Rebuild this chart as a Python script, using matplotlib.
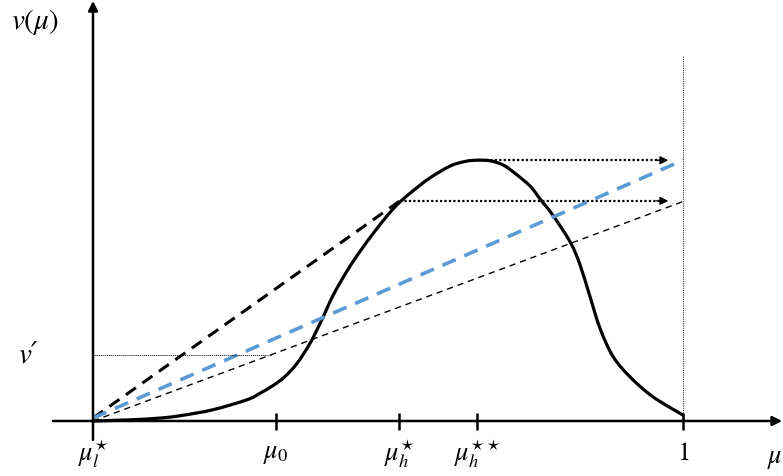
import matplotlib
matplotlib.use('Agg')
from matplotlib import pyplot as plt
from matplotlib.path import Path
from matplotlib.patches import PathPatch

# curve v(mu)
mu = [0, 0.063, 0.114, 0.148, 0.203, 0.261, 0.283, 0.305, 0.325, 0.346, 0.368, 0.388,
      0.407, 0.431, 0.453, 0.478, 0.503, 0.520, 0.546, 0.571, 0.605, 0.631, 0.651, 0.673,
      0.695, 0.715, 0.741, 0.758, 0.780, 0.809, 0.825, 0.842, 0.859, 0.881, 0.910, 0.949, 1.0]
v = [0, 0.002, 0.005, 0.009, 0.019, 0.036, 0.047, 0.060, 0.075, 0.098, 0.132, 0.172,
     0.213, 0.255, 0.288, 0.322, 0.353, 0.371, 0.393, 0.412, 0.432, 0.440, 0.442, 0.441,
     0.434, 0.420, 0.398, 0.376, 0.348, 0.303, 0.266, 0.212, 0.158, 0.110, 0.075, 0.041, 0.010]

tick_pos = [0, 0.310, 0.519, 0.651, 1.0]
tick_labels = [r'$\mu_l^{\star}$', r'$\mu_0$', r'$\mu_h^{\star}$', r'$\mu_h^{\star\star}$', r'$1$']

mu_hs, v_hs = 0.520, 0.373      # tangent point
mu_hss, v_hss = 0.651, 0.442    # peak
v_blue_end = 0.442
v_thin_end = 0.372
v_prime = 0.112
arrow_end = 0.975

plt.rcParams['mathtext.fontset'] = 'stix'
fig = plt.figure(figsize=(7.83, 4.76), dpi=100)
ax = fig.add_axes([0, 0, 1, 1])
ax.set_xlim(-93 / 590, 690 / 590)
ax.set_ylim(-55 / 590, 421 / 590)
ax.axis('off')

# axes with arrows
ax.annotate('', xy=(1.168, 0), xytext=(-0.068, 0),
            arrowprops=dict(arrowstyle='-|>', lw=1.8, color='black', mutation_scale=14,
                            shrinkA=0, shrinkB=0))
ax.annotate('', xy=(0, 0.712), xytext=(0, -0.032),
            arrowprops=dict(arrowstyle='-|>', lw=1.8, color='black', mutation_scale=14,
                            shrinkA=0, shrinkB=0))
for t in tick_pos[1:]:
    ax.plot([t, t], [0.013, -0.015], color='black', lw=1.8, solid_capstyle='butt')

# straight lines
ax.plot([0, mu_hs], [0.005, v_hs], color='black', lw=2.2, linestyle=(0, (4, 2.6)))
ax.plot([0, 1], [0.005, v_blue_end], color='#5b9bd5', lw=2.6, linestyle=(0, (4, 2.6)))
ax.plot([0, 1], [0, v_thin_end], color='black', lw=1.0, linestyle=(0, (4.5, 3.5)))
ax.plot([0, v_prime / v_thin_end], [v_prime, v_prime], color='black', lw=0.7,
        linestyle=(0, (1, 1)))
ax.plot([1, 1], [0.010, 0.620], color='#333333', lw=0.8, linestyle=(0, (1, 1)))

# dotted arrows
for x0, y0 in [(mu_hss, v_hss), (mu_hs, v_hs)]:
    ax.plot([x0, arrow_end - 0.012], [y0, y0], color='black', lw=1.6, linestyle=(0, (1, 1)))
    ax.annotate('', xy=(arrow_end, y0), xytext=(arrow_end - 0.02, y0),
                arrowprops=dict(arrowstyle='-|>', lw=1.0, color='black', mutation_scale=12,
                                shrinkA=0, shrinkB=0))

# main curve: smooth bezier path through the read points
verts = [(mu[0], v[0])]
codes = [Path.MOVETO]
n = len(mu)
for i in range(n - 1):
    p0 = (mu[max(i - 1, 0)], v[max(i - 1, 0)])
    p1 = (mu[i], v[i])
    p2 = (mu[i + 1], v[i + 1])
    p3 = (mu[min(i + 2, n - 1)], v[min(i + 2, n - 1)])
    c1 = (p1[0] + (p2[0] - p0[0]) / 6, p1[1] + (p2[1] - p0[1]) / 6)
    c2 = (p2[0] - (p3[0] - p1[0]) / 6, p2[1] - (p3[1] - p1[1]) / 6)
    verts += [c1, c2, p2]
    codes += [Path.CURVE4] * 3
ax.add_patch(PathPatch(Path(verts, codes), facecolor='none', edgecolor='black', lw=2.3,
                       capstyle='round', joinstyle='round'))

# labels
for t, lab in zip(tick_pos, tick_labels):
    ax.text(t, -0.055, lab, fontsize=19, ha='center', va='center')
ax.text(1.143, -0.062, r'$\mu$', fontsize=19, ha='left', va='center')
ax.text(-0.098, 0.676, r'$v(\mu)$', fontsize=21, ha='center', va='center')
ax.text(-0.11, v_prime, 'v\u2032', fontsize=21, ha='center', va='center',
        family=['STIXGeneral', 'DejaVu Serif'], style='italic')

plt.savefig('out.png', dpi=100)
